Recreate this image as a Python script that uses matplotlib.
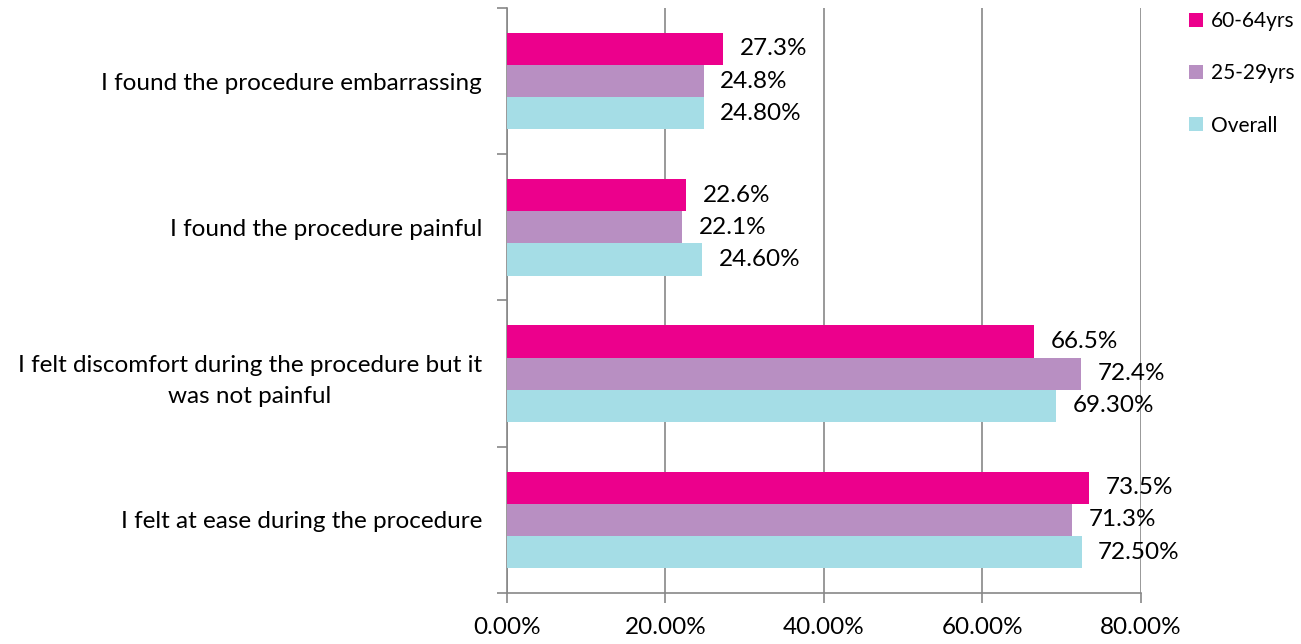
import numpy as np
import matplotlib.pyplot as plt
from matplotlib.ticker import FuncFormatter, FixedLocator

plt.rcParams['font.family'] = ['Lato', 'DejaVu Sans']

categories = ["I felt at ease during the procedure",
              "I felt discomfort during the procedure but it\nwas not painful",
              "I found the procedure painful",
              "I found the procedure embarrassing"]
series_names = ["60-64yrs", "25-29yrs", "Overall"]
age_60_64 = [73.5, 66.5, 22.6, 27.3]
age_25_29 = [71.3, 72.4, 22.1, 24.8]
overall = [72.5, 69.3, 24.6, 24.8]
label_fmt = ["{:.1f}%", "{:.1f}%", "{:.2f}%"]
colors = ["#EC008C", "#B88FC2", "#A5DDE6"]
xticks = [0, 20, 40, 60, 80]
fs = 17.5

fig = plt.figure(figsize=(13.01, 6.44), dpi=100)
ax = fig.add_axes([0.3897, 0.0792, 0.4873, 0.9084])

y = np.arange(len(categories))
h = 0.22
offsets = [h, 0, -h]
for vals, name, col, off, fmt in zip([age_60_64, age_25_29, overall], series_names,
                                     colors, offsets, label_fmt):
    bars = ax.barh(y + off, vals, height=h, color=col, label=name, zorder=3)
    for b, v in zip(bars, vals):
        ax.annotate(fmt.format(v), (v, b.get_y() + h / 2), xytext=(12, 0),
                    textcoords="offset points", va="center", ha="left", fontsize=fs)

ax.set_xlim(0, 80)
ax.set_ylim(-0.5, len(categories) - 0.5)
ax.set_xticks(xticks)
ax.xaxis.set_major_formatter(FuncFormatter(lambda v, p: "{:.2f}%".format(v)))
ax.set_yticks(y)
ax.set_yticklabels(categories, fontsize=fs, ha="right", multialignment="center",
                   linespacing=1.6)
ax.yaxis.set_minor_locator(FixedLocator(np.arange(-0.5, len(categories), 1)))
ax.tick_params(axis="y", which="major", length=0, pad=18)
ax.tick_params(axis="y", which="minor", length=7, color="#878787", width=1.2)
ax.tick_params(axis="x", length=7, color="#878787", width=1.2, labelsize=fs, pad=10)
ax.grid(axis="x", color="#878787", linewidth=1.2, zorder=0)
for s in ["top", "right"]:
    ax.spines[s].set_visible(False)
for s in ["left", "bottom"]:
    ax.spines[s].set_color("#878787")
    ax.spines[s].set_linewidth(1.2)

leg = fig.legend(loc="upper left", bbox_to_anchor=(0.914, 0.983), frameon=False, fontsize=15,
                 handlelength=0.65, handleheight=0.65, handletextpad=0.4, labelspacing=1.55,
                 borderpad=0, borderaxespad=0)

fig.savefig("out.png", dpi=100)
